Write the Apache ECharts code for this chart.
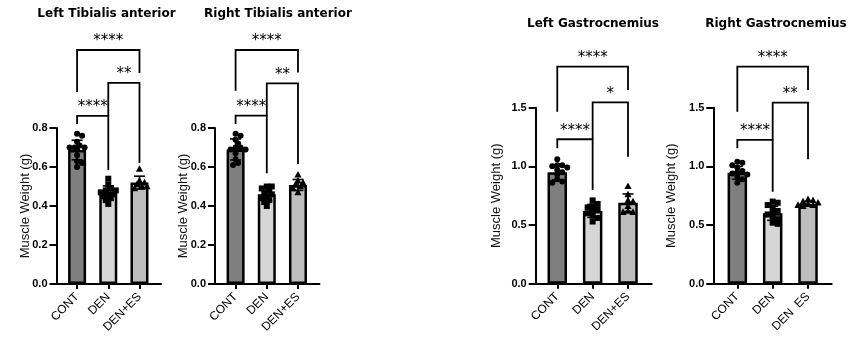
<!DOCTYPE html>
<html><head><meta charset="utf-8">
<script src="https://cdn.jsdelivr.net/npm/echarts@6/dist/echarts.min.js"></script>
<style>html,body{margin:0;padding:0;background:#fff}#c{width:850px;height:343px}</style>
</head><body><div id="c"></div>
<script>
// ---------- data ----------
const categories = ['CONT', 'DEN', 'DEN+ES'];
const categoriesRG = ['CONT', 'DEN', 'DEN  ES'];
const titles = ['Left Tibialis anterior', 'Right Tibialis anterior', 'Left Gastrocnemius', 'Right Gastrocnemius'];
const yAxisName = 'Muscle Weight (g)';
const yMaxTA = 0.8, yStepTA = 0.2;
const yMaxGA = 1.5, yStepGA = 0.5;

// Left Tibialis anterior
const ltaMeans = [0.687, 0.467, 0.52];
const ltaSD = [0.05, 0.036, 0.033];
const ltaCONT = [0.77, 0.76, 0.73, 0.71, 0.70, 0.70, 0.70, 0.69, 0.66, 0.63, 0.62, 0.60];
const ltaDEN = [0.54, 0.51, 0.49, 0.48, 0.48, 0.47, 0.46, 0.46, 0.45, 0.44, 0.43, 0.41];
const ltaDENES = [0.59, 0.53, 0.52, 0.51, 0.50, 0.50, 0.49];
const ltaBrackets = [[0, 1, 0.862, 0.821, 0.585, '****'], [1, 2, 1.031, 0.862, 0.62, '**'], [0, 2, 1.2, 0.985, 1.082, '****']];

// Right Tibialis anterior
const rtaMeans = [0.69, 0.46, 0.508];
const rtaSD = [0.054, 0.033, 0.028];
const rtaCONT = [0.77, 0.76, 0.74, 0.72, 0.70, 0.70, 0.69, 0.69, 0.67, 0.64, 0.62, 0.61];
const rtaDEN = [0.50, 0.50, 0.49, 0.48, 0.47, 0.46, 0.45, 0.44, 0.43, 0.42, 0.40];
const rtaDENES = [0.56, 0.53, 0.52, 0.51, 0.50, 0.49, 0.47];
const rtaBrackets = [[0, 1, 0.863, 0.82, 0.568, '****'], [1, 2, 1.029, 0.863, 0.615, '**'], [0, 2, 1.2, 0.991, 1.084, '****']];

// Left Gastrocnemius
const lgMeans = [0.95, 0.62, 0.69];
const lgSD = [0.065, 0.055, 0.075];
const lgCONT = [1.06, 1.01, 1.01, 1.00, 0.99, 0.97, 0.95, 0.93, 0.89, 0.87, 0.86];
const lgDEN = [0.71, 0.68, 0.66, 0.65, 0.63, 0.62, 0.60, 0.58, 0.56, 0.53];
const lgDENES = [0.83, 0.76, 0.71, 0.70, 0.66, 0.62, 0.61, 0.61];
const lgBrackets = [[0, 1, 1.231, 1.154, 0.799, '****'], [1, 2, 1.546, 1.231, 1.083, '*'], [0, 2, 1.85, 1.466, 1.651, '****']];

// Right Gastrocnemius
const rgMeans = [0.945, 0.60, 0.68];
const rgSD = [0.055, 0.06, 0.02];
const rgCONT = [1.04, 1.03, 1.01, 0.99, 0.96, 0.95, 0.94, 0.93, 0.91, 0.89, 0.86];
const rgDEN = [0.70, 0.69, 0.67, 0.65, 0.62, 0.61, 0.59, 0.57, 0.55, 0.52, 0.51];
const rgDENES = [0.72, 0.71, 0.70, 0.69, 0.68, 0.67, 0.67, 0.66];
const rgBrackets = [[0, 1, 1.225, 1.154, 0.784, '****'], [1, 2, 1.543, 1.225, 1.06, '**'], [0, 2, 1.85, 1.466, 1.651, '****']];

// ---------- layout / style ----------
const barColors = ['#7f7f7f', '#d6d6d6', '#bebebe'];
const shapes = ['circle', 'square', 'triangle'];
const panels = [
  { title: titles[0], tx: 106.5, ty: 14, labels: categories, yMax: yMaxTA, yStep: yStepTA, means: ltaMeans, sds: ltaSD, pts: [ltaCONT, ltaDEN, ltaDENES], br: ltaBrackets,
    grid: { left: 56.5, top: 128, width: 104.5, height: 156 }, xMin: -0.66, xMax: 2.69, nameGap: 25, barWidth: 18 },
  { title: titles[1], tx: 278, ty: 14, labels: categories, yMax: yMaxTA, yStep: yStepTA, means: rtaMeans, sds: rtaSD, pts: [rtaCONT, rtaDEN, rtaDENES], br: rtaBrackets,
    grid: { left: 215, top: 128, width: 104.5, height: 156 }, xMin: -0.66, xMax: 2.69, nameGap: 25.5, barWidth: 18 },
  { title: titles[2], tx: 593, ty: 24, labels: categories, yMax: yMaxGA, yStep: yStepGA, means: lgMeans, sds: lgSD, pts: [lgCONT, lgDEN, lgDENES], br: lgBrackets,
    grid: { left: 535.7, top: 107.7, width: 116, height: 176 }, xMin: -0.61, xMax: 2.67, nameGap: 32.5, barWidth: 19.5 },
  { title: titles[3], tx: 776, ty: 24, labels: categoriesRG, yMax: yMaxGA, yStep: yStepGA, means: rgMeans, sds: rgSD, pts: [rgCONT, rgDEN, rgDENES], br: rgBrackets,
    grid: { left: 713.3, top: 107.7, width: 118.4, height: 176 }, xMin: -0.68, xMax: 2.67, nameGap: 35, barWidth: 19.5 }
];

function symbolShape(kind, x, y) {
  const st = { fill: '#000' };
  if (kind === 'circle') return { type: 'circle', shape: { cx: x, cy: y, r: 3 }, style: st };
  if (kind === 'square') return { type: 'rect', shape: { x: x - 3, y: y - 3, width: 6, height: 6 }, style: st };
  return { type: 'polygon', shape: { points: [[x, y - 3.8], [x + 3.6, y + 2.8], [x - 3.6, y + 2.8]] }, style: st };
}

function pointsRenderer(p) {
  return function (params, api) {
    const i = params.dataIndex;
    const cx = api.coord([i, 0])[0];
    const vals = p.pts[i].map(v => ({ v, y: api.coord([i, v])[1] })).sort((a, b) => b.v - a.v);
    const placed = [];
    const step = 2.5, minD = 4.6, maxOff = 10;
    vals.forEach(q => {
      for (let k = 0; k < 30; k++) {
        const off = k === 0 ? 0 : (k % 2 ? 1 : -1) * Math.ceil(k / 2) * step;
        if (Math.abs(off) > maxOff) break;
        const x = cx + off;
        if (placed.every(o => Math.hypot(o.x - x, o.y - q.y) >= minD)) { q.x = x; placed.push(q); break; }
      }
      if (q.x === undefined) { q.x = cx; placed.push(q); }
    });
    const children = placed.map(q => symbolShape(shapes[i], q.x, q.y));
    const yt = api.coord([i, p.means[i] + p.sds[i]])[1];
    const yb = api.coord([i, p.means[i] - p.sds[i]])[1];
    const ls = { stroke: '#000', lineWidth: 1.6 };
    children.push({ type: 'line', shape: { x1: cx, y1: yt, x2: cx, y2: yb }, style: ls });
    children.push({ type: 'line', shape: { x1: cx - 5.5, y1: yt, x2: cx + 5.5, y2: yt }, style: ls });
    children.push({ type: 'line', shape: { x1: cx - 5.5, y1: yb, x2: cx + 5.5, y2: yb }, style: ls });
    return { type: 'group', children };
  };
}

function bracketRenderer(p) {
  return function (params, api) {
    const b = p.br[params.dataIndex];
    const a1 = api.coord([b[0], b[3]]);
    const h1 = api.coord([b[0], b[2]]);
    const h2 = api.coord([b[1], b[2]]);
    const a2 = api.coord([b[1], b[4]]);
    return {
      type: 'group', children: [
        { type: 'polyline', shape: { points: [a1, h1, h2, a2] }, style: { stroke: '#000', lineWidth: 1.8, fill: null } },
        { type: 'text', style: { x: (h1[0] + h2[0]) / 2, y: h1[1] - 1, text: b[5], align: 'center', verticalAlign: 'bottom', fontSize: 15, fontFamily: 'DejaVu Sans', fill: '#000' } }
      ]
    };
  };
}

const option = { animation: false, backgroundColor: '#fff', grid: [], xAxis: [], yAxis: [], series: [], graphic: [] };
panels.forEach((p, k) => {
  option.grid.push(Object.assign({ containLabel: false }, p.grid));
  option.graphic.push({ type: 'text', x: p.tx, y: p.ty, style: { text: p.title, align: 'center', verticalAlign: 'middle', font: 'bold 12px "DejaVu Sans"', fill: '#000' } });
  option.xAxis.push({
    type: 'value', gridIndex: k, min: p.xMin, max: p.xMax,
    axisLine: { show: true, onZero: false, lineStyle: { color: '#000', width: 2 } },
    axisTick: { show: true, customValues: [0, 1, 2], length: 5, lineStyle: { color: '#000', width: 2 } },
    axisLabel: { show: true, customValues: [0, 1, 2], rotate: 45, margin: 11, fontSize: 12, fontFamily: 'Liberation Sans', color: '#000',
      formatter: v => p.labels[Math.round(v)] },
    splitLine: { show: false }
  });
  option.yAxis.push({
    type: 'value', gridIndex: k, min: 0, max: p.yMax, interval: p.yStep,
    name: yAxisName, nameLocation: 'middle', nameGap: p.nameGap, nameMoveOverlap: false,
    nameTextStyle: { fontSize: 13, fontFamily: 'Liberation Sans', color: '#111' },
    axisLine: { show: true, onZero: false, lineStyle: { color: '#000', width: 2 } },
    axisTick: { show: true, length: 7, lineStyle: { color: '#000', width: 2 } },
    axisLabel: { fontSize: 11, fontWeight: 'bold', fontFamily: 'Liberation Sans', color: '#000', margin: 9,
      formatter: v => v.toFixed(1) },
    splitLine: { show: false }
  });
  option.series.push({
    type: 'bar', xAxisIndex: k, yAxisIndex: k, barWidth: p.barWidth, z: 2,
    data: p.means.map((m, i) => ({ value: [i, m], itemStyle: { color: barColors[i], borderColor: '#000', borderWidth: 2.5 } }))
  });
  option.series.push({
    type: 'custom', xAxisIndex: k, yAxisIndex: k, z: 3, clip: false,
    data: p.means.map((m, i) => [i, m]), renderItem: pointsRenderer(p)
  });
  option.series.push({
    type: 'custom', xAxisIndex: k, yAxisIndex: k, z: 4, clip: false,
    encode: { x: 0, y: 2 },
    data: p.br.map(b => [b[0], b[1], b[2]]), renderItem: bracketRenderer(p)
  });
});
const chart = echarts.init(document.getElementById('c'), null, { renderer: 'canvas' });
chart.setOption(option);
</script></body></html>
